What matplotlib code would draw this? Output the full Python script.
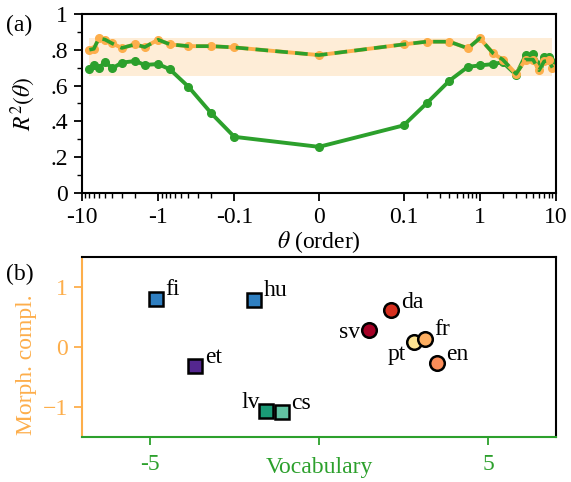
import numpy as np
import matplotlib
matplotlib.use("Agg")
import matplotlib.pyplot as plt

plt.rcParams["font.family"] = ["Liberation Serif", "DejaVu Serif"]
plt.rcParams["mathtext.fontset"] = "stix"
plt.rcParams["font.size"] = 17

GREEN = "#2ca02c"
ORANGE = "#fdae4b"

# panel (a): R^2 as a function of theta
theta = [-8, -7, -6, -5, -4, -3, -2, -1.5, -1, -0.7, -0.4, -0.2, -0.1, 0,
         0.1, 0.2, 0.4, 0.7, 1, 1.5, 2, 3, 4, 5, 6, 7, 8, 9]
r2_vocab = [0.69, 0.715, 0.696, 0.733, 0.696, 0.728, 0.737, 0.715, 0.72, 0.69,
            0.593, 0.444, 0.313, 0.257, 0.377, 0.50, 0.627, 0.705, 0.712, 0.72,
            0.73, 0.66, 0.77, 0.775, 0.715, 0.76, 0.76, 0.73]
r2_both = [0.80, 0.805, 0.864, 0.857, 0.835, 0.81, 0.83, 0.815, 0.856, 0.83,
           0.82, 0.82, 0.813, 0.77, 0.83, 0.845, 0.845, 0.808, 0.864, 0.78,
           0.745, 0.665, 0.745, 0.745, 0.685, 0.735, 0.74, 0.70]
band_low, band_high = 0.655, 0.865

x_ticks = [-10, -1, -0.1, 0, 0.1, 1, 10]
x_ticklabels = ["-10", "-1", "-0.1", "0", "0.1", "1", "10"]
y_ticks = [0, 0.2, 0.4, 0.6, 0.8, 1]
y_ticklabels = ["0", ".2", ".4", ".6", ".8", "1"]

# panel (b): languages in the vocabulary / morphology plane
langs = ["fi", "hu", "et", "lv", "cs", "sv", "da", "pt", "fr", "en"]
vocab = [-4.82, -1.91, -3.66, -1.55, -1.10, 1.47, 2.14, 2.82, 3.12, 3.48]
morph = [0.80, 0.78, -0.31, -1.06, -1.08, 0.29, 0.61, 0.09, 0.13, -0.26]
lang_colors = ["#2f7fc1", "#2f7fc1", "#54278f", "#1a9a76", "#62c2a2",
               "#a50026", "#d7301f", "#fee391", "#fdae61", "#fc8d59"]
lang_markers = ["s", "s", "s", "s", "s", "o", "o", "o", "o", "o"]
label_offsets = [(7, 7), (7, 7), (7, 6), (-5, 6), (7, 6),
                 (-6, -2), (7, 6), (-6, -9), (7, 7), (7, 6)]


def main():
    fig = plt.figure(figsize=(5.71, 4.82), dpi=100)
    ax1 = fig.add_axes([0.1436, 0.600, 0.830, 0.371])
    ax2 = fig.add_axes([0.1436, 0.093, 0.830, 0.374])

    # ---- panel (a)
    ax1.set_xscale("symlog", linthresh=0.1, linscale=1)
    ax1.fill_between([theta[0], theta[-1]], band_low, band_high,
                     color=ORANGE, alpha=0.22, lw=0)
    ax1.plot(theta, r2_vocab, "-o", color=GREEN, lw=2.8, ms=5.5)
    ax1.plot(theta, r2_both, "-o", color=ORANGE, lw=2.8, ms=5.5)
    ax1.plot(theta, r2_both, "--", color=GREEN, lw=2.6, dashes=(3.5, 2))
    ax1.set_xlim(-10, 10)
    ax1.set_ylim(0, 1)
    ax1.set_xticks(x_ticks)
    ax1.set_xticklabels(x_ticklabels)
    minors = []
    for dec in [0.1, 1]:
        for k in range(2, 10):
            minors += [k * dec, -k * dec]
    ax1.set_xticks(minors, minor=True)
    ax1.set_yticks(y_ticks)
    ax1.set_yticklabels(y_ticklabels)
    ax1.set_yticks(np.arange(0.1, 1.0, 0.2), minor=True)
    ax1.tick_params(which="major", length=6, width=1.3, pad=4)
    ax1.tick_params(which="minor", length=3.5, width=1.0)
    for s in ax1.spines.values():
        s.set_linewidth(1.5)
    ax1.set_ylabel(r"$R^2(\theta)$", labelpad=9)
    ax1.set_xlabel(r"$\theta$ (order)", labelpad=1)
    fig.text(0.01, 0.935, "(a)", fontsize=17)

    # ---- panel (b)
    for x, y, c, m in zip(vocab, morph, lang_colors, lang_markers):
        ax2.plot(x, y, m, color=c, ms=10 if m == "s" else 10.5,
                 mec="black", mew=1.8)
    for name, x, y, off in zip(langs, vocab, morph, label_offsets):
        ax2.annotate(name, (x, y), xytext=off, textcoords="offset points",
                     ha="left" if off[0] > 0 else "right", va="center",
                     fontsize=17)
    ax2.set_xlim(-7, 7)
    ax2.set_ylim(-1.5, 1.5)
    ax2.set_xticks([-5, 0, 5])
    ax2.set_xticklabels(["-5", "", "5"])
    ax2.set_yticks([-1, 0, 1])
    ax2.set_yticklabels(["\u22121", "0", "1"])
    ax2.spines["left"].set_color(ORANGE)
    ax2.spines["bottom"].set_color(GREEN)
    for s in ax2.spines.values():
        s.set_linewidth(1.5)
    ax2.tick_params(axis="x", colors=GREEN, length=6, width=1.3, pad=6)
    ax2.tick_params(axis="y", colors=ORANGE, length=6, width=1.3, pad=4)
    ax2.set_xlabel("Vocabulary", color=GREEN, labelpad=-13)
    ax2.set_ylabel("Morph. compl.", color=ORANGE)
    ax2.yaxis.set_label_coords(-0.095, 0.40)
    fig.text(0.01, 0.42, "(b)", fontsize=17)

    fig.savefig("out.png", dpi=100)


if __name__ == "__main__":
    main()
